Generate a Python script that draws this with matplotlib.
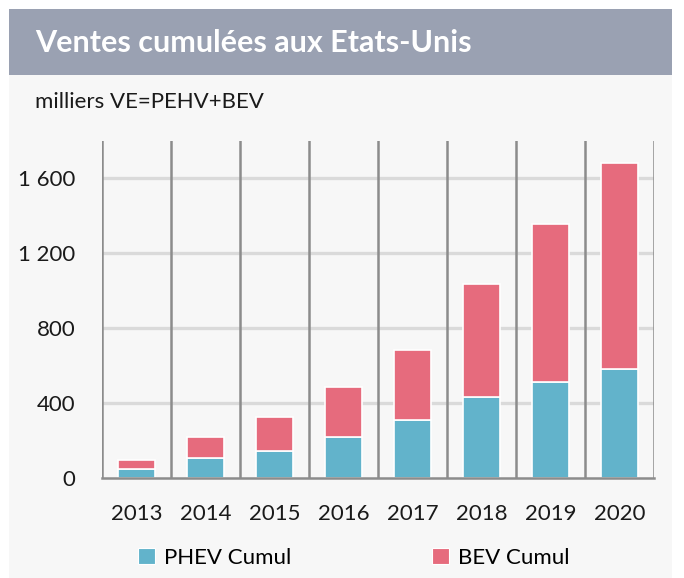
import matplotlib
matplotlib.use("Agg")
import matplotlib.pyplot as plt
from matplotlib.patches import Rectangle, Patch

years = ["2013", "2014", "2015", "2016", "2017", "2018", "2019", "2020"]
phev_cumul = [48, 107, 144, 219, 309, 434, 514, 583]
bev_cumul = [48, 112, 183, 268, 374, 604, 841, 1099]
yticks = [0, 400, 800, 1200, 1600]
ytick_labels = ["0", "400", "800", "1 200", "1 600"]

title = "Ventes cumulées aux Etats-Unis"
subtitle = "milliers VE=PEHV+BEV"
series_names = ["PHEV Cumul", "BEV Cumul"]
c_phev = "#62b3cb"
c_bev = "#e66b7d"

plt.rcParams['font.family'] = ['Lato', 'DejaVu Sans']

W, H = 684, 578
fig = plt.figure(figsize=(W / 100, H / 100), dpi=100)
fig.patch.set_facecolor("white")

# card background
fig.add_artist(Rectangle((9 / W, 0), (672 - 9) / W, 1 - 9 / H, transform=fig.transFigure,
                         facecolor="#f7f7f7", edgecolor="none", zorder=0))
# title band
fig.add_artist(Rectangle((9 / W, 1 - 75 / H), (672 - 9) / W, (75 - 9) / H, transform=fig.transFigure,
                         facecolor="#9aa1b2", edgecolor="none", zorder=1))
fig.text(35 / W, 1 - 43 / H, title, color="white", fontsize=22, fontweight="bold",
         va="center", ha="left", zorder=2)
fig.text(35 / W, 1 - 102 / H, subtitle, color="#1a1a1a", fontsize=16,
         va="center", ha="left", zorder=2)

ax = fig.add_axes([102 / W, 1 - 478 / H, (654 - 102) / W, (478 - 141) / H])
ax.set_facecolor("none")
x = list(range(len(years)))
ax.bar(x, phev_cumul, width=0.53, color=c_phev, edgecolor="white", linewidth=1.2, zorder=3,
       label=series_names[0])
ax.bar(x, bev_cumul, bottom=phev_cumul, width=0.53, color=c_bev, edgecolor="white",
       linewidth=1.2, zorder=3, label=series_names[1])

ax.set_xlim(-0.5, len(years) - 0.5)
ax.set_ylim(0, 1800)
ax.set_yticks(yticks)
ax.set_yticklabels(ytick_labels)
ax.set_xticks(x)
ax.set_xticklabels(years)
for yv in yticks[1:]:
    ax.axhline(yv, color="#dadada", linewidth=2.4, zorder=1)
for b in range(len(years) + 1):
    ax.axvline(b - 0.5, color="#8c8c8c", linewidth=1.8, zorder=2)
for s in ["top", "left", "right"]:
    ax.spines[s].set_visible(False)
ax.spines["bottom"].set_color("#8c8c8c")
ax.spines["bottom"].set_linewidth(1.8)
ax.spines["bottom"].set_zorder(4)
ax.tick_params(axis="both", length=0, labelsize=16, colors="#1a1a1a")
ax.tick_params(axis="y", pad=19)
ax.tick_params(axis="x", pad=19)

leg_kw = dict(loc="center left", frameon=False, fontsize=16, handlelength=0.75,
              handleheight=0.75, handletextpad=0.4, borderaxespad=0, borderpad=0)
l1 = fig.legend([Patch(facecolor=c_phev, edgecolor="white", linewidth=0.8)], [series_names[0]],
                bbox_to_anchor=(138 / W, 1 - 558 / H), **leg_kw)
l2 = fig.legend([Patch(facecolor=c_bev, edgecolor="white", linewidth=0.8)], [series_names[1]],
                bbox_to_anchor=(432 / W, 1 - 558 / H), **leg_kw)

fig.savefig("out.png", dpi=100, facecolor=fig.get_facecolor())
